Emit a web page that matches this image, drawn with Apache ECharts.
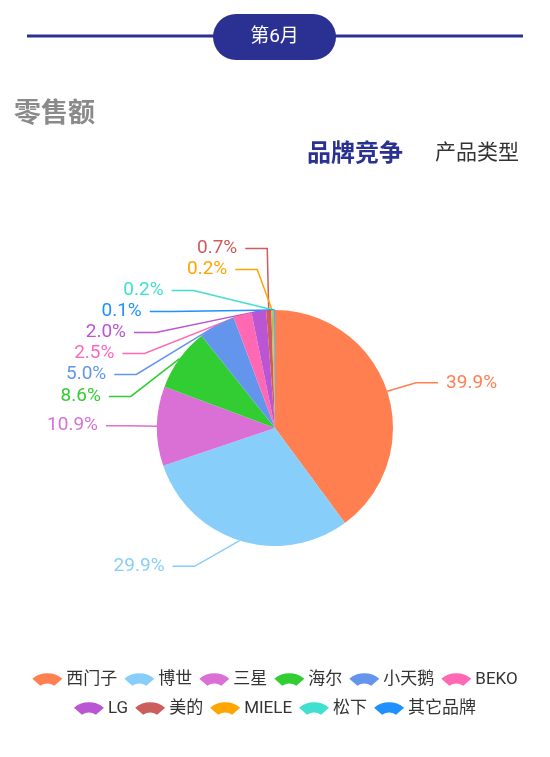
<!DOCTYPE html>
<html>
<head>
<meta charset="utf-8">
<script src="https://cdn.jsdelivr.net/npm/echarts@6/dist/echarts.min.js"></script>
<style>
html,body{margin:0;padding:0;background:#fff;}
#chart{width:550px;height:757px;}
</style>
</head>
<body>
<div id="chart"></div>
<script>
const brands = ['西门子','博世','三星','海尔','小天鹅','BEKO','LG','美的','MIELE','松下','其它品牌'];
const shares = [39.9, 29.9, 10.9, 8.6, 5.0, 2.5, 2.0, 0.7, 0.2, 0.2, 0.1];
const colors = ['#FF7F50','#87CEFA','#DA70D6','#32CD32','#6495ED','#FF69B4','#BA55D3','#CD5C5C','#FFA500','#40E0D0','#1E90FF'];
const legendRow1 = brands.slice(0, 6);
const legendRow2 = brands.slice(6);
const monthLabel = '第6月';
const sectionTitle = '零售额';
const tabs = ['品牌竞争','产品类型'];

const FONT = 'Roboto, "Noto Sans CJK SC", sans-serif';
const fanIcon = 'path://M0,9 A24,24 0 0 1 30,9 L22,16 A14,14 0 0 0 8,16 Z';

// pie geometry (layout, not data)
const CX = 275, CY = 428, R = 118;
const LEN = 27, LEN2 = 22, TEXT_R = 177, GAP = 8, LABEL_H = 21;

// classic (ECharts 2/4 style) outside-label layout, computed from the data
function buildLabelPlan() {
  const total = shares.reduce((a, b) => a + b, 0);
  let acc = 0;
  const items = shares.map((v, i) => {
    const mid = (acc + v / 2) / total * Math.PI * 2; acc += v;
    const dx = Math.sin(mid), dy = -Math.cos(mid);
    const dir = dx < 0 ? -1 : 1;
    const x1 = CX + R * dx, y1 = CY + R * dy;
    const x2 = CX + (R + LEN) * dx, y2 = CY + (R + LEN) * dy;
    return {i, dir, x1, y1, y: y2, x: x2 + dir * (LEN2 + GAP)};
  });
  function adjustSide(list, dir) {
    list.sort((a, b) => Math.round(a.y) - Math.round(b.y));
    const n = list.length;
    function shiftUp(end, delta) {
      for (let j = end; j >= 0; j--) {
        list[j].y -= delta;
        if (j > 0 && list[j].y > list[j - 1].y + LABEL_H) break;
      }
    }
    function shiftDown(start, end, delta) {
      for (let j = start; j < end; j++) {
        list[j].y += delta;
        if (j > start && j + 1 < end && list[j + 1].y > list[j].y + LABEL_H) {
          shiftUp(j, delta / 2);
          return;
        }
      }
      shiftUp(end - 1, delta / 2);
    }
    let lastY = 0;
    for (let k = 0; k < n; k++) {
      const d = list[k].y - lastY;
      if (d < 0) shiftDown(k, n, -d);
      lastY = list[k].y + LABEL_H;
    }
    const up = list.filter(l => l.y < CY), down = list.filter(l => l.y >= CY);
    function changeX(arr, isDown) {
      let last = isDown ? Number.MAX_VALUE : 0;
      arr.forEach(l => {
        const dY = Math.abs(l.y - CY);
        let dX = dY < R + LEN ? Math.sqrt(TEXT_R * TEXT_R - dY * dY) : Math.abs(l.x - CX);
        if (isDown && dX >= last) dX = last - 10;
        if (!isDown && dX <= last) dX = last + 10;
        l.x = CX + dX * dir;
        last = dX;
      });
    }
    changeX(up, false);
    changeX(down, true);
  }
  adjustSide(items.filter(t => t.dir < 0), -1);
  adjustSide(items.filter(t => t.dir > 0), 1);
  const plan = [];
  items.forEach(t => {
    const end = t.x - t.dir * GAP;
    const midX = end - t.dir * LEN2;
    plan[t.i] = {
      x: t.x, y: t.y, align: t.dir < 0 ? 'right' : 'left',
      points: [[t.x1, t.y1], [midX, t.y], [end, t.y]]
    };
  });
  return plan;
}
const labelPlan = buildLabelPlan();

const legendBase = {
  left: 'center',
  itemWidth: 30,
  itemHeight: 14,
  itemGap: 7,
  icon: fanIcon,
  textStyle: {fontSize: 17, color: '#333', fontFamily: FONT, padding:[0,0,0,-1]}
};

const chart = echarts.init(document.getElementById('chart'));
chart.setOption({
  color: colors,
  animation: false,
  graphic: [
    {type:'line', shape:{x1:27,y1:36,x2:523,y2:36}, style:{stroke:'#2B3192', lineWidth:3}},
    {type:'rect', shape:{x:213,y:14,width:123,height:46,r:23}, style:{fill:'#2B3192'}},
    {type:'text', x:274.5, y:37, style:{text:monthLabel, fill:'#fff', font:'19px ' + FONT, textAlign:'center', textVerticalAlign:'middle'}},
    {type:'text', x:14, y:115, style:{text:sectionTitle, fill:'#8a8a8a', font:'bold 27px ' + FONT, textVerticalAlign:'middle'}},
    {type:'text', x:307, y:155, style:{text:tabs[0], fill:'#2B3192', font:'bold 24px ' + FONT, textVerticalAlign:'middle'}},
    {type:'text', x:435, y:154, style:{text:tabs[1], fill:'#333', font:'21px ' + FONT, textVerticalAlign:'middle'}}
  ],
  legend: [
    Object.assign({top: 666, data: legendRow1}, legendBase),
    Object.assign({top: 695, data: legendRow2}, legendBase)
  ],
  series: [{
    type: 'pie',
    center: [CX, CY],
    radius: R,
    startAngle: 90,
    clockwise: true,
    label: {
      show: true,
      position: 'outside',
      formatter: p => p.value.toFixed(1) + '%',
      fontSize: 19,
      fontFamily: FONT,
      color: 'inherit'
    },
    labelLine: {show: true, length: LEN, length2: LEN2, lineStyle:{width:1.5}},
    labelLayout: p => {
      const L = labelPlan[p.dataIndex];
      return {x: L.x, y: L.y, align: L.align, verticalAlign: 'middle', labelLinePoints: L.points};
    },
    data: brands.map((b,i) => ({name: b, value: shares[i]}))
  }]
});
</script>
</body>
</html>
